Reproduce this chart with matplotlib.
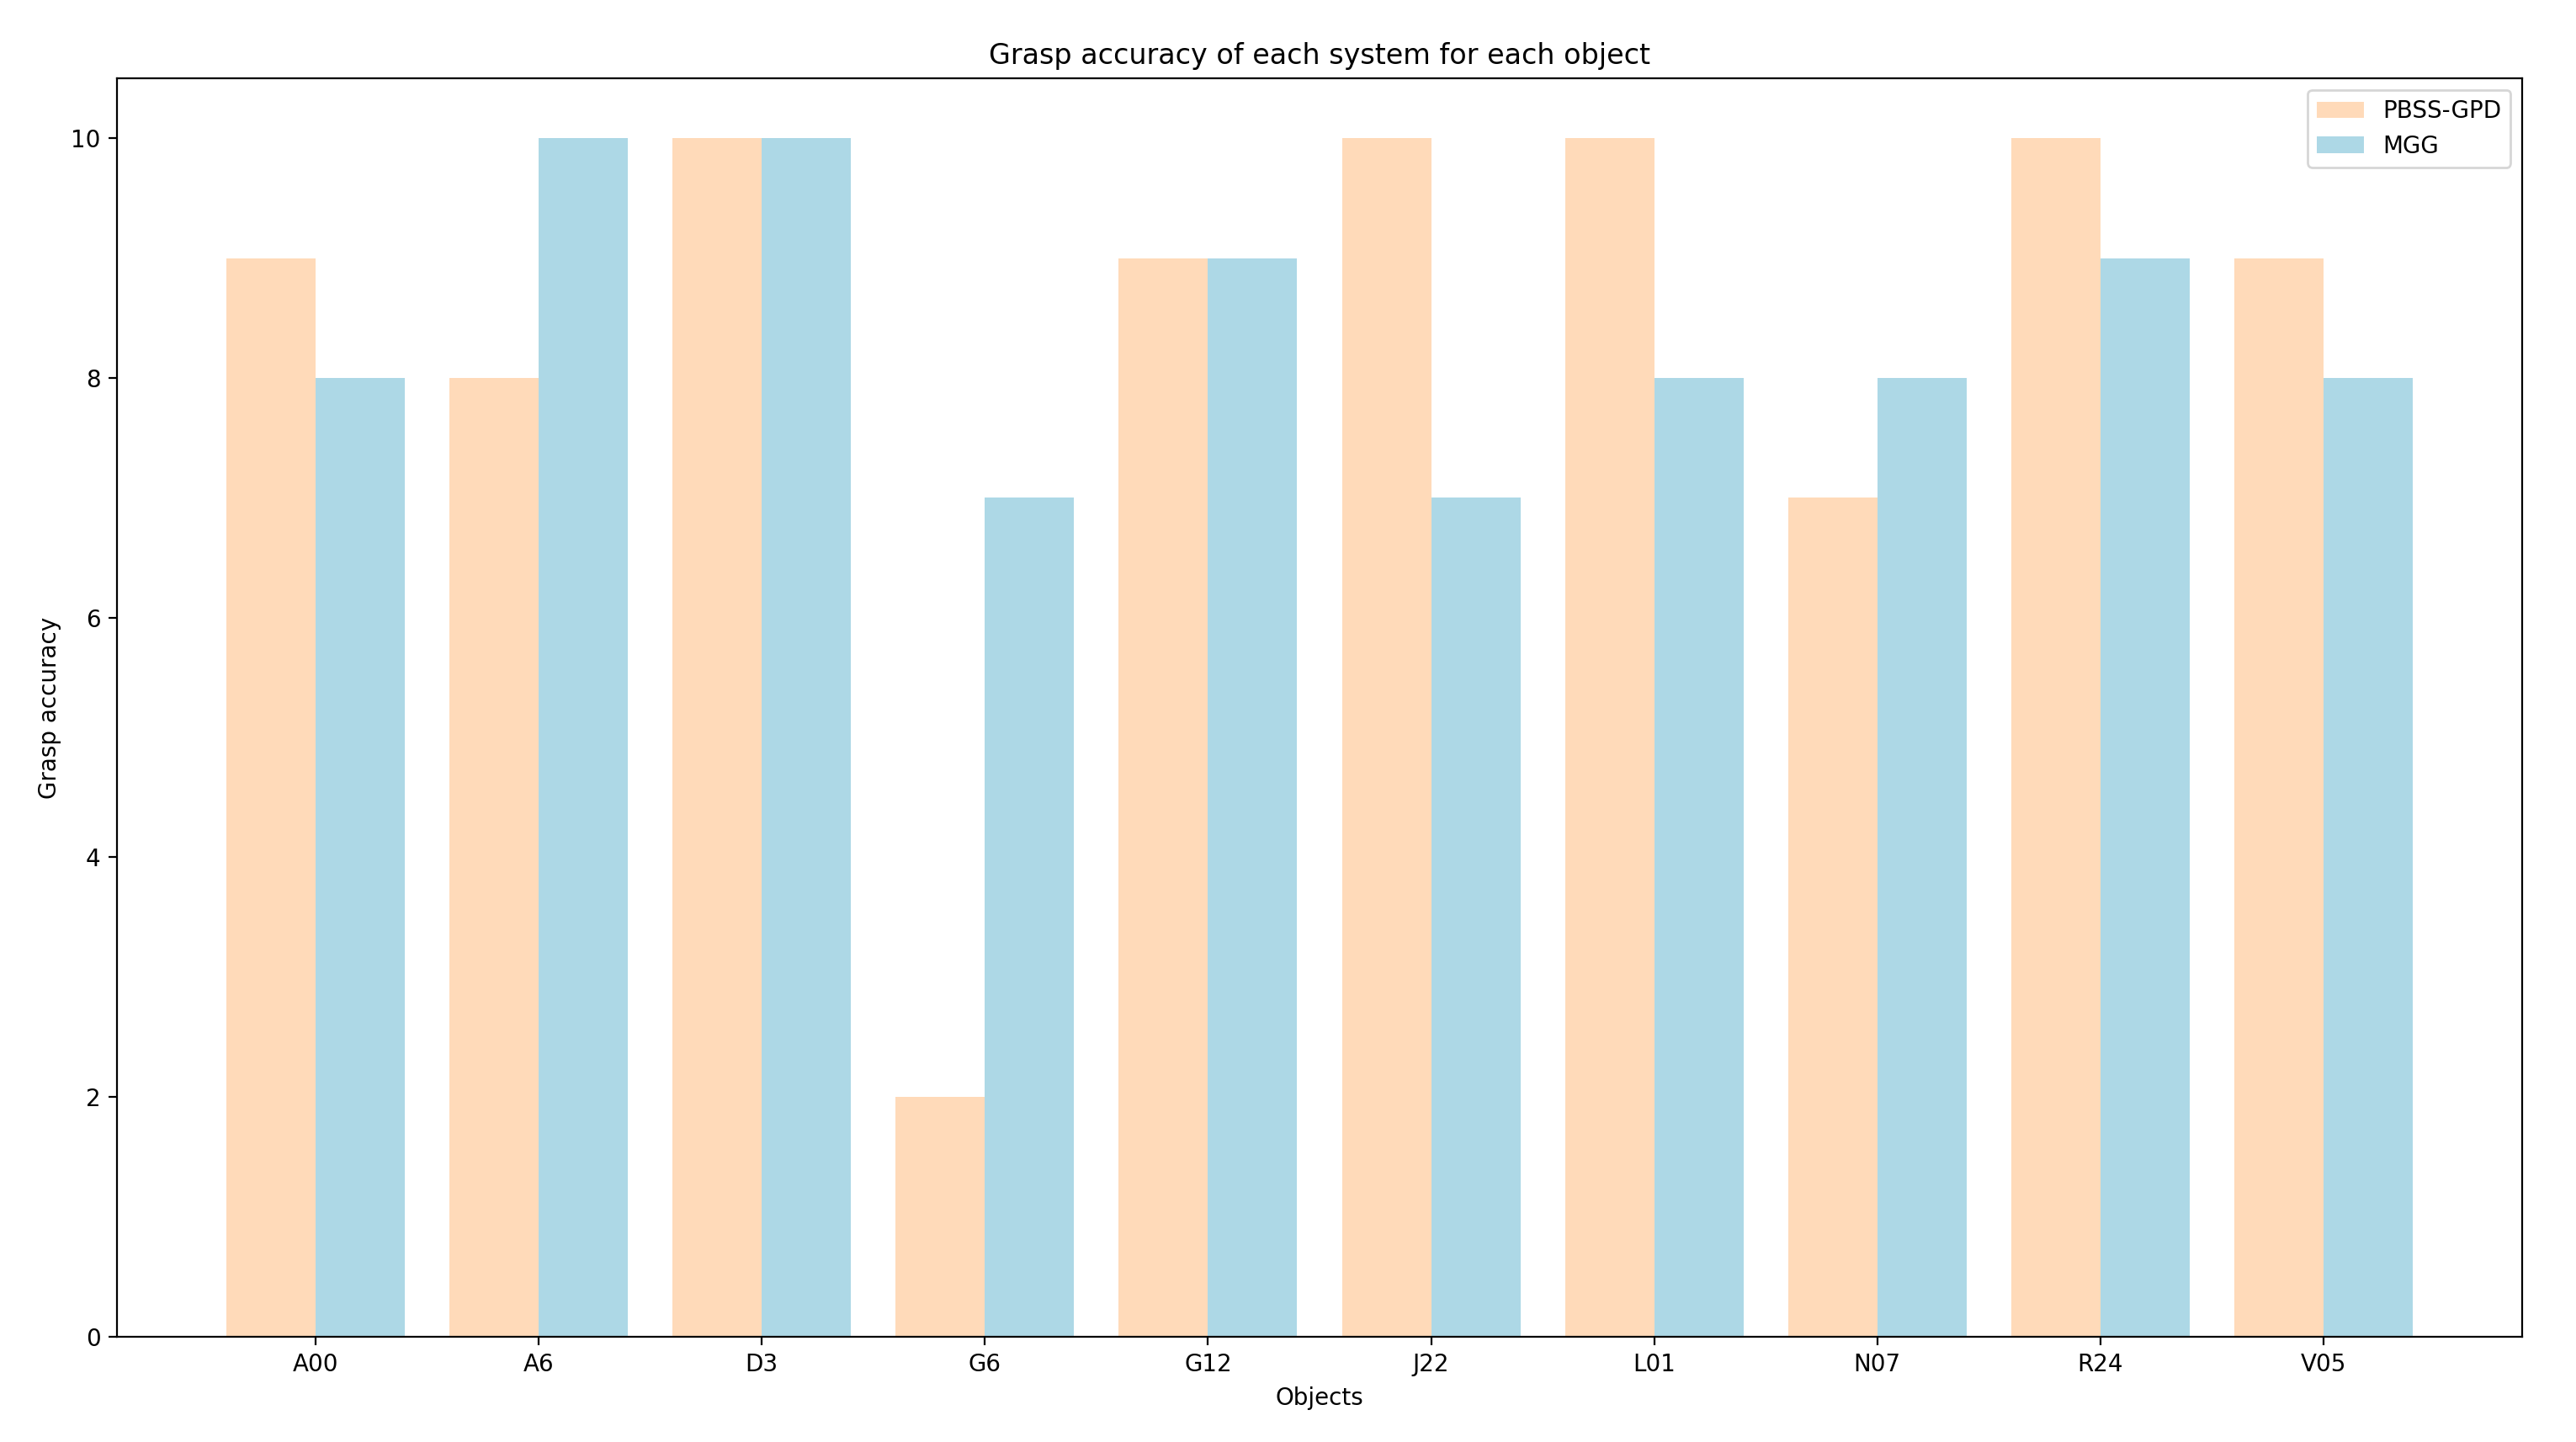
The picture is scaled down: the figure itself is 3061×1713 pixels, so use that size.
import numpy as np
from matplotlib import pyplot as plt

objects = ['A00', 'A6', 'D3', 'G6', 'G12', 'J22', 'L01', 'N07', 'R24', 'V05']
pbss_gpd = [9, 8, 10, 2, 9, 10, 10, 7, 10, 9]
mgg = [8, 10, 10, 7, 9, 7, 8, 8, 9, 8]

x = np.arange(len(objects))
width = 0.4

fig, ax = plt.subplots(figsize=(3061/200, 1713/200), dpi=200)
fig.subplots_adjust(left=0.0454, right=0.9791, top=0.9457, bottom=0.0730)

ax.bar(x - width/2, pbss_gpd, width, label='PBSS-GPD', color='peachpuff')
ax.bar(x + width/2, mgg, width, label='MGG', color='lightblue')

ax.set_xticks(x)
ax.set_xticklabels(objects)
ax.set_xlabel('Objects')
ax.set_ylabel('Grasp accuracy')
ax.set_title('Grasp accuracy of each system for each object')
ax.legend()

fig.savefig('out.png', dpi=200)
